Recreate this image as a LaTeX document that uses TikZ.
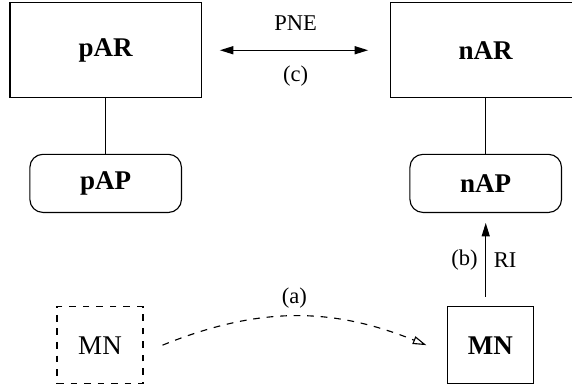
\documentclass[tikz,border=0pt]{standalone}
\usepackage{fontspec}
\setmainfont{Liberation Serif}
\usetikzlibrary{arrows.meta,positioning}

\begin{document}
\begin{tikzpicture}[node distance=168.7pt,on grid,auto,line width=0.5pt]
  \tikzstyle{router} = [draw, rectangle, minimum width=84.9pt, minimum height=42.2pt, font={\large\bfseries}]
  \tikzstyle{accessPoint} = [draw, rectangle, rounded corners=5.8pt, minimum width=67.3pt, minimum height=25.8pt, font={\large\bfseries}]
  \tikzstyle{mobileNode} = [draw, rectangle, minimum width=38.2pt, minimum height=34pt, font=\large]
  \tikzstyle{solidTip} = [-{Triangle[length=6pt,width=3.6pt]}]
  \tikzstyle{openTip} = [-{Triangle[open,length=6pt,width=3.6pt]}]

  \useasboundingbox (-46.9pt,-149.5pt) rectangle (207pt,22.3pt);

  \node[router](par) {pAR};
  \node[router](nar) [right=of par] {nAR};
  \node[accessPoint](pap) [below=59.1pt of par] {pAP};
  \node[accessPoint](nap) [below=59.1pt of nar] {nAP};
  \node[mobileNode,dashed](mnold) [below left=71.8pt and 2.5pt of pap] {MN};
  \node[mobileNode,font={\large\bfseries}](mnnew) [below right=71.8pt and 2.1pt of nap] {MN};

  \draw (par) -- (pap);
  \draw (nar) -- (nap);

  % (c) context transfer between the routers
  \draw[{Triangle[length=6pt,width=3.6pt]}-{Triangle[length=6pt,width=3.6pt]}, shorten <=8pt, shorten >=9.5pt]
    (par) -- node[above=5.4pt] {PNE} node[below=3.3pt] {(c)} (nar);

  % (b) router solicitation
  \draw[solidTip, shorten <=4.2pt, shorten >=4.4pt]
    (nap.south |- mnnew.north) -- node {(b)} node[swap] {RI} (nap.south);

  % (a) movement
  \draw[openTip, dashed]
    ([xshift=8.4pt]mnold.east) to[bend left=22] node {(a)} ([xshift=-9.1pt]mnnew.west);
\end{tikzpicture}
\end{document}
